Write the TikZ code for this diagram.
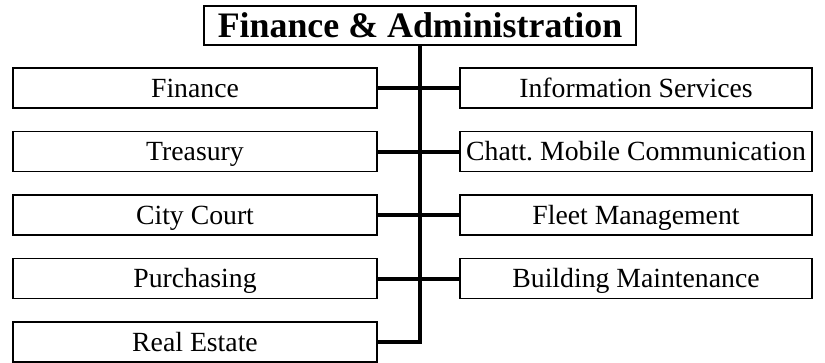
\documentclass[tikz,border=0pt]{standalone}
\usepackage{fontspec}
\setmainfont{Liberation Serif}

\begin{document}
\begin{tikzpicture}[x=0.75pt,y=-0.75pt,
  unit/.style={draw,line width=1.1pt,minimum height=30pt,inner sep=0pt,
    text height=13.8pt,text depth=0pt,
    font=\fontsize{20.8}{24}\selectfont},
  leftunit/.style={unit,minimum width=273pt},
  rightunit/.style={unit,minimum width=264pt},
  link/.style={line width=3pt},
  trunk/.style={line width=3.7pt,line join=miter}]
  \useasboundingbox (0,0) rectangle (825,362);
  \node[unit,minimum width=324pt,minimum height=29pt,text height=18.2pt,
    font=\bfseries\fontsize{26.9}{30}\selectfont] (head) at (420,25.5) {Finance \& Administration};
  % left column
  \foreach \name/\txt/\row in {fin/Finance/0,tre/Treasury/1,cit/City Court/2,
      pur/Purchasing/3,rea/Real Estate/4}
    \node[leftunit] (\name) at (195,88+63.5*\row) {\txt};
  % right column
  \foreach \name/\txt/\row in {inf/Information Services/0,
      cha/Chatt.\ Mobile Communication/1,fle/Fleet Management/2,
      bui/Building Maintenance/3}
    \node[rightunit] (\name) at (636,88+63.5*\row) {\txt};
  \draw[trunk] (head.south) |- (rea.east);
  \foreach \name in {fin,tre,cit,pur}
    \draw[link] (\name.east) -- (\name.east -| head.south);
  \foreach \name in {inf,cha,fle,bui}
    \draw[link] (\name.west) -- (\name.west -| head.south);
\end{tikzpicture}
\end{document}
